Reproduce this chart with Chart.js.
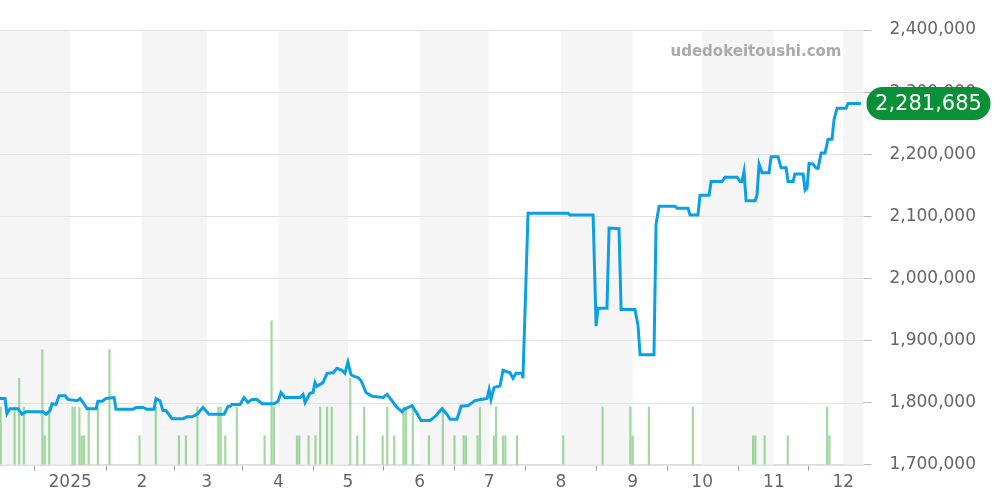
<!DOCTYPE html>
<html><head><meta charset="utf-8">
<script src="https://cdn.jsdelivr.net/npm/chart.js@4"></script>
<style>html,body{margin:0;padding:0;background:#fff}#w{width:1000px;height:500px}</style>
</head><body><div id="w"><canvas id="c"></canvas></div>
<script>
// days since 2024-12-01
const priceDays = [0.7,2.9,3.7,5.0,8.5,10.2,11.9,19.3,20.6,22.3,23.2,24.9,26.2,28.8,30.1,34.0,35.3,36.6,38.3,42.2,43.0,44.8,46.5,50.0,50.8,58.2,59.5,62.5,64.2,67.2,68.1,69.8,71.1,72.4,75.0,79.8,81.5,83.6,85.8,88.4,91.0,97.5,99.2,100.1,100.9,104.4,106.1,107.8,109.6,111.7,113.9,119.1,120.8,122.1,123.8,130.3,131.6,132.5,134.6,135.9,136.8,137.6,140.2,142.0,144.6,146.3,148.4,149.7,151.0,152.3,153.6,155.4,156.7,158.8,161.4,166.2,167.9,170.0,172.2,174.4,175.2,178.7,180.4,182.6,186.5,189.1,191.6,193.8,195.1,198.1,199.9,202.9,205.9,208.5,211.1,212.0,212.8,214.1,216.7,218.0,221.0,222.3,223.6,226.2,226.6,228.8,246.1,246.9,256.9,258.2,259.0,262.9,263.8,268.1,269.0,275.0,276.3,277.2,283.2,284.1,285.4,292.3,293.2,297.9,298.8,302.2,303.1,307.0,307.9,312.6,313.9,319.1,320.4,321.2,322.1,323.0,326.9,327.7,328.6,329.9,332.9,333.8,336.8,338.1,340.3,341.1,343.3,344.1,347.6,348.5,349.3,350.2,351.9,353.2,354.1,355.4,357.1,358.4,360.1,361.0,362.3,366.2,367.0,372.6];
const priceValues = [1806500,1806500,1782000,1790000,1790000,1781000,1785000,1785000,1781000,1787000,1798000,1797000,1811000,1811000,1805000,1803000,1806500,1800000,1790000,1790000,1802000,1802000,1806500,1808000,1789000,1789000,1792000,1792000,1789000,1789000,1806500,1803000,1787000,1787000,1774000,1774000,1777000,1777000,1781000,1792000,1781000,1781000,1794000,1794000,1797000,1797000,1808000,1800000,1805000,1805000,1798000,1798000,1802000,1816000,1808000,1808000,1813000,1800000,1815000,1816000,1832000,1826000,1832000,1847000,1848000,1855000,1852000,1847000,1865000,1845000,1842000,1840000,1835000,1816000,1810000,1808000,1813000,1803000,1792000,1785000,1789000,1795000,1785000,1771000,1771000,1779000,1790000,1781000,1773000,1773000,1794000,1795000,1803000,1805000,1806500,1821000,1805000,1824000,1827000,1852000,1848000,1839000,1847000,1847000,1839000,2105000,2105000,2102000,2102000,1923000,1952000,1952000,2081000,2080000,1950000,1950000,1924000,1877000,1877000,2087000,2116000,2116000,2113000,2113000,2102000,2102000,2134000,2134000,2156000,2156000,2163000,2163000,2156000,2156000,2172000,2125000,2125000,2134000,2184000,2170000,2170000,2196000,2196000,2178000,2178000,2156000,2156000,2168000,2168000,2142000,2145000,2185000,2184000,2178000,2177000,2202000,2202000,2224000,2224000,2256000,2274000,2274000,2281685,2281685];
const volumeDays = [1,7,9,11,19,20,22,32,33,35,36,37,39,43,48,61,68,78,81,86,95,96,98,103,115,118,119,129,130,134,137,139,142,144,152,155,158,166,168,171,175,176,179,186,192,197,201,202,207,208,214,215,218,219,224,244,261,273,274,281,300,326,327,331,341,358,359];
const volumeValues = [2,2,3,2,4,1,2,2,2,2,1,1,2,2,4,1,2,1,1,2,2,2,1,2,1,5,2,1,1,1,1,2,2,2,3,1,2,1,2,1,2,2,2,1,2,1,1,1,1,2,1,2,1,1,1,1,2,2,1,2,2,1,1,1,1,2,1];
const monthStarts = [31,62,90,121,151,182,212,243,274,304,335,365];
const monthLabels = ['2025','2','3','4','5','6','7','8','9','10','11','12'];
const shadedBands = [[0.7,31],[62,90],[121,151],[182,212],[243,274],[304,335],[365,373.7]];
const lastPrice = 2281685;

const bands = {id:'bands',beforeDatasetsDraw(ch){const {ctx,chartArea:a,scales:{x}}=ch;ctx.save();ctx.fillStyle='#f5f5f5';
 shadedBands.forEach(b=>{const x0=x.getPixelForValue(b[0]),x1=x.getPixelForValue(b[1]);ctx.fillRect(x0,a.top,x1-x0,a.bottom-a.top);});
 ctx.strokeStyle='#e2e2e2';ctx.lineWidth=1;ch.scales.y.ticks.forEach(t=>{const yy=Math.round(ch.scales.y.getPixelForValue(t.value))+0.5;ctx.beginPath();ctx.moveTo(a.left,yy);ctx.lineTo(a.right,yy);ctx.stroke();});
 ctx.restore();}};
const deco = {id:'deco',afterDraw(ch){const {ctx,chartArea:a,scales:{y}}=ch;ctx.save();
 ctx.font='bold 15px "DejaVu Sans"';ctx.fillStyle='#aaa';ctx.textAlign='right';ctx.textBaseline='middle';ctx.fillText('udedokeitoushi.com',a.right-22,52);
 const py=y.getPixelForValue(lastPrice);const x0=a.right+3,w=124,h=33;ctx.fillStyle='#0a9138';ctx.beginPath();ctx.roundRect(x0,py-h/2,w,h,16);ctx.fill();
 ctx.fillStyle='#fff';ctx.font='21px "DejaVu Sans"';ctx.textAlign='center';ctx.fillText('2,281,685',x0+w/2,py+1);ctx.restore();}};

new Chart(document.getElementById('c'),{
 data:{datasets:[
  {type:'line',data:priceDays.map((d,i)=>({x:d,y:priceValues[i]})),borderColor:'#0aa0e6',borderWidth:3,pointRadius:0,tension:0,yAxisID:'y',order:1},
  {type:'bar',data:volumeDays.map((d,i)=>({x:d,y:volumeValues[i]})),backgroundColor:'rgba(120,200,120,0.7)',barThickness:1.5,yAxisID:'v',order:2}
 ]},
 options:{responsive:true,maintainAspectRatio:false,animation:false,
  layout:{padding:{top:30,right:6,left:0,bottom:5}},
  plugins:{legend:{display:false},tooltip:{enabled:false}},
  scales:{
   x:{type:'linear',min:0.7,max:373.7,offset:false,
    afterBuildTicks(s){s.ticks=monthStarts.map(v=>({value:v}));},
    ticks:{autoSkip:false,maxRotation:0,color:'#666',font:{size:17,family:'DejaVu Sans'},padding:2,callback(v){const i=monthStarts.indexOf(v);return i>=0?monthLabels[i]:'';}},
    grid:{drawOnChartArea:false,drawTicks:true,tickLength:6,color:'#999'},border:{color:'#ddd'}},
   y:{position:'right',min:1700000,max:2400000,
    afterBuildTicks(s){s.ticks=[1700000,1800000,1900000,2000000,2100000,2200000,2300000,2400000].map(v=>({value:v}));},
    ticks:{color:'#666',font:{size:17,family:'DejaVu Sans'},padding:18,callback:v=>v.toLocaleString('en-US')},
    grid:{drawOnChartArea:false,drawTicks:true,tickLength:8,color:'#bbb'},border:{display:false}},
   v:{display:false,min:0,max:15.1}
  }},
 plugins:[bands,deco]
});
</script></body></html>
